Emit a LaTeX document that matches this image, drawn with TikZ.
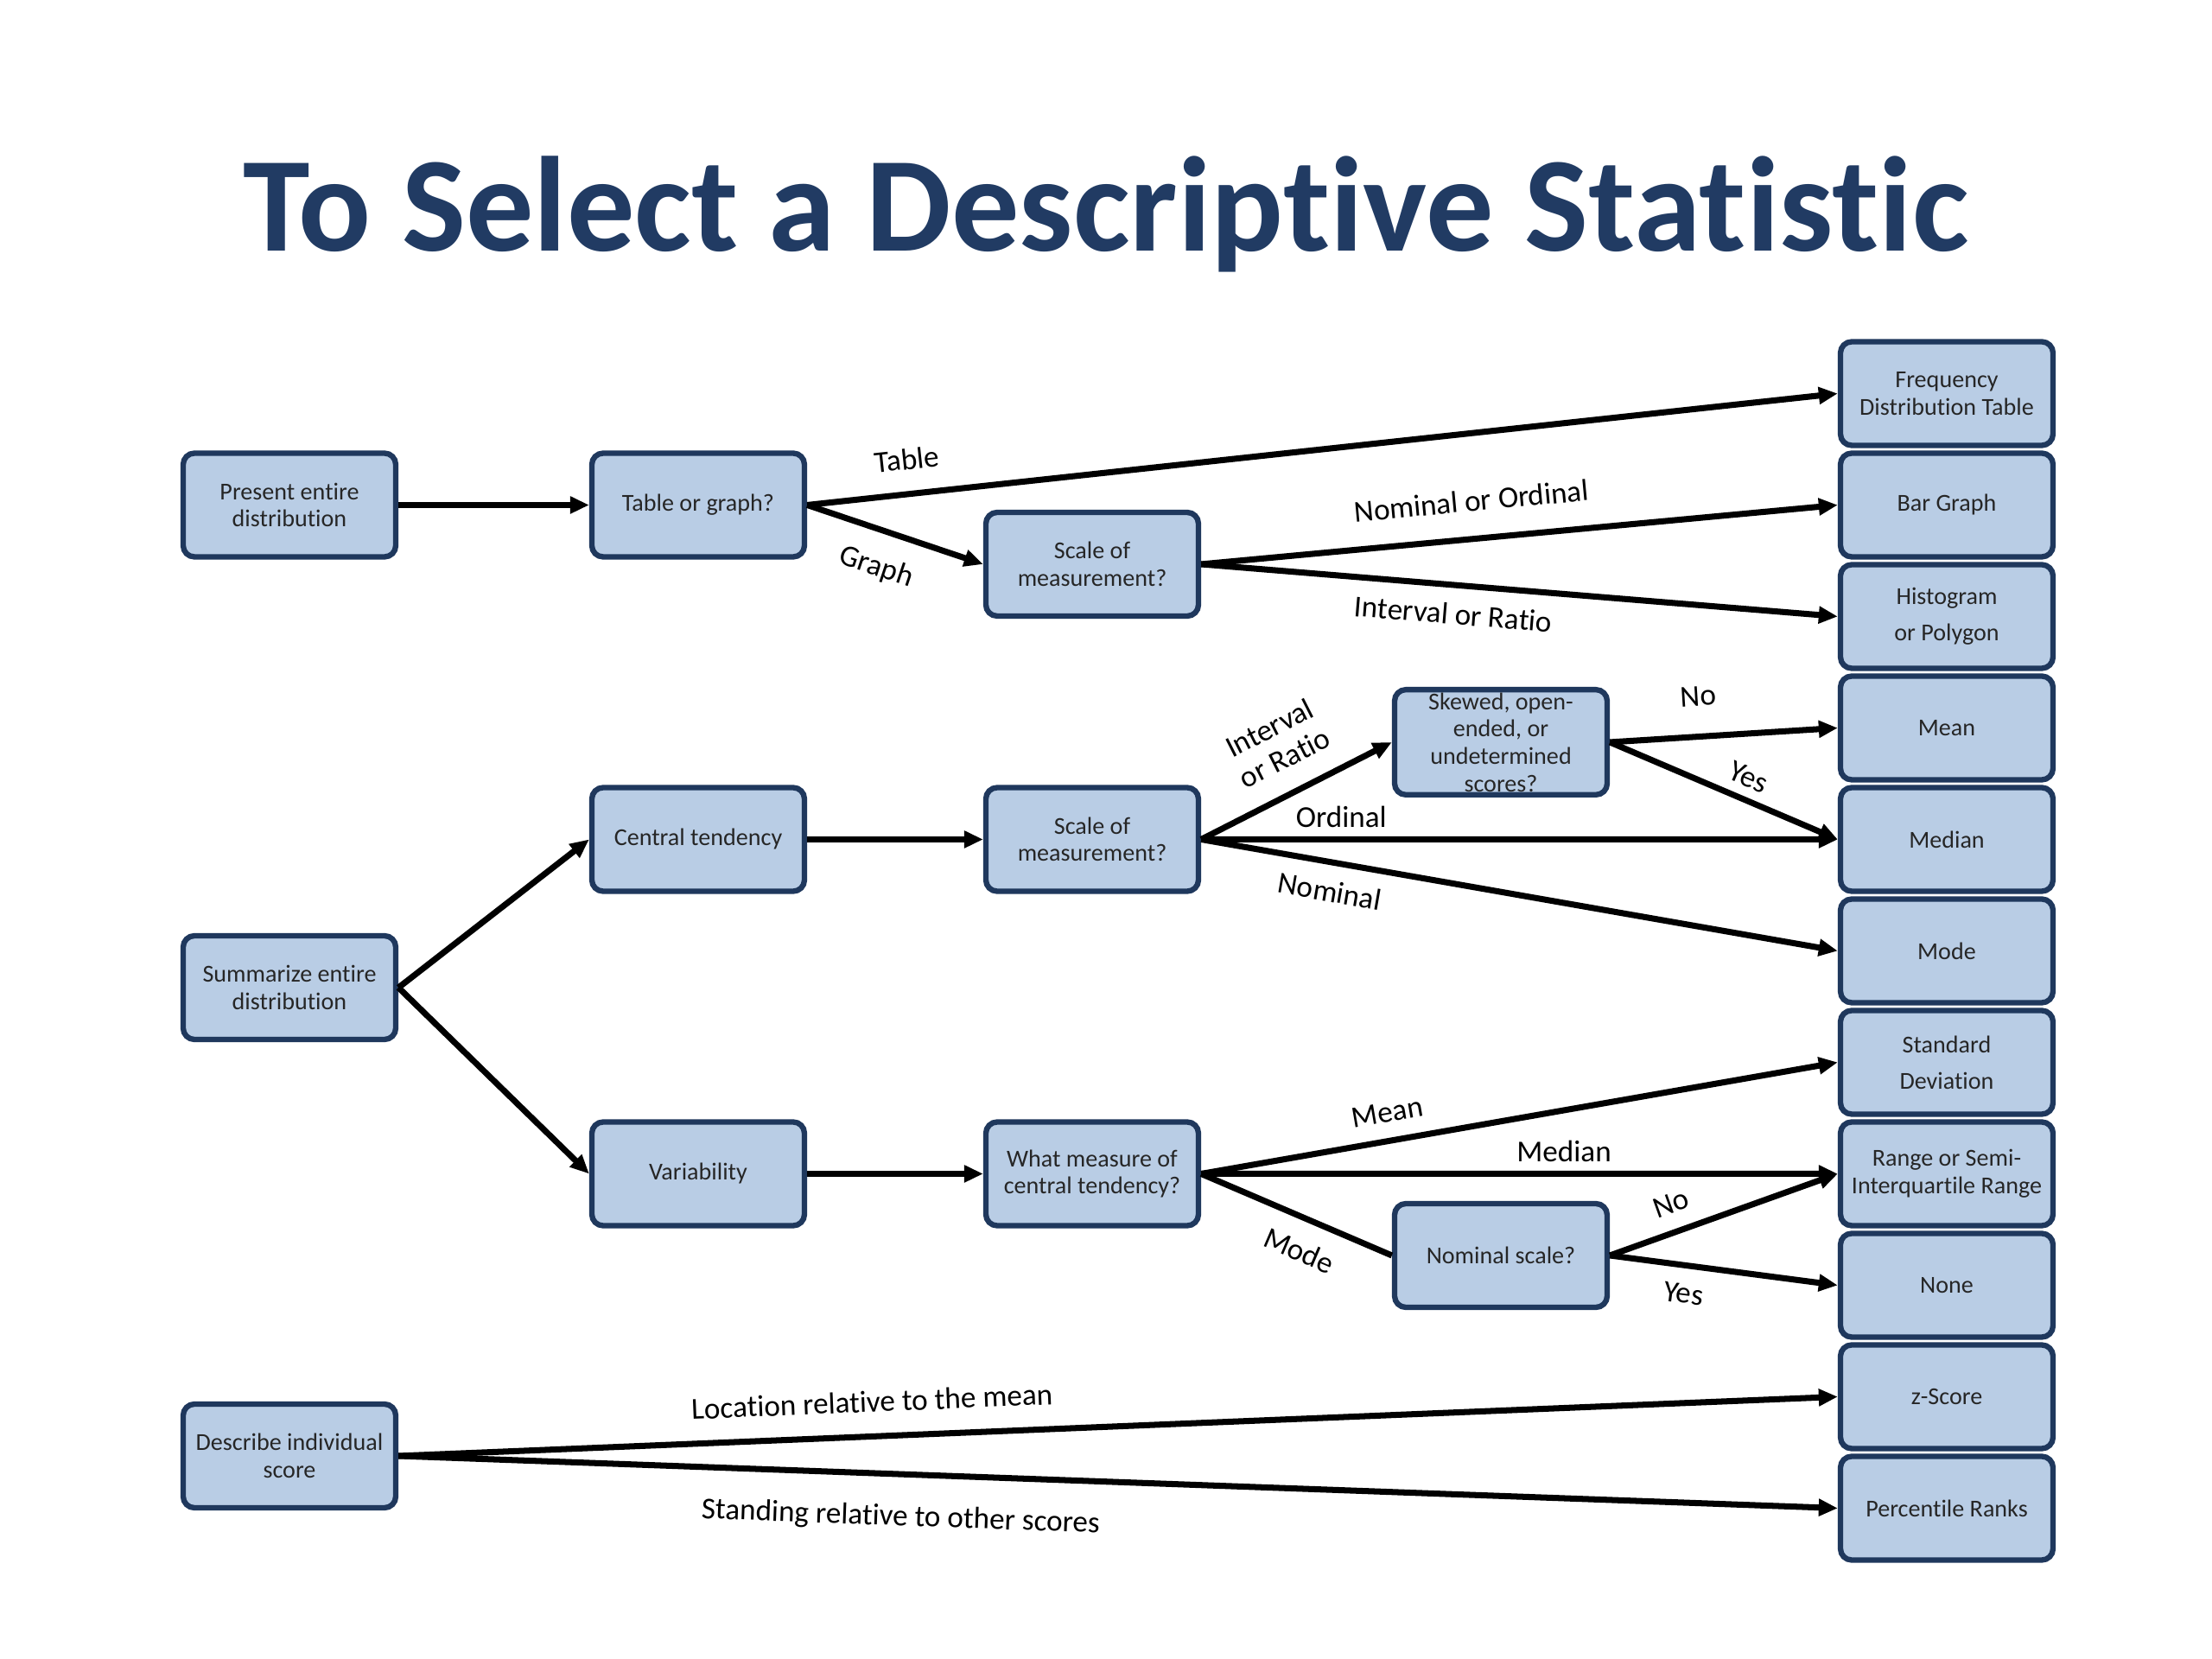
\documentclass[tikz,border=0pt]{standalone}
\usepackage{fontspec}
\setmainfont{Carlito}[Ligatures=NoCommon]
\usetikzlibrary{arrows.meta,positioning}
\definecolor{boxfill}{RGB}{185,205,229}
\definecolor{boxline}{RGB}{31,56,93}
\definecolor{titleblue}{RGB}{33,59,99}
\tikzset{
    box/.style={draw=boxline, fill=boxfill, line width=1.8pt,
        rounded corners=0.13cm, minimum width=2.46cm, minimum height=1.2cm,
        align=center, inner sep=1pt, text=black!85,
        font=\fontsize{8}{9}\selectfont},
    flow/.style={line width=2pt, -{Triangle[length=0.22cm,width=0.19cm]}},
    lbl/.style={font=\fontsize{10}{11}\selectfont, sloped, inner sep=3pt}
}
\begin{document}
\begin{tikzpicture}
    \useasboundingbox[fill=white] (0,0) rectangle (25.6,19.2);
    \node[anchor=base, text=titleblue, font=\fontsize{44.5}{50}\selectfont\bfseries]
        (title) at (12.8,16.29) {To Select a Descriptive Statistic};
    % results column
    \foreach[count=\i] \rtext in {{Frequency\\Distribution Table}, Bar Graph,
        {Histogram\\[3pt]or Polygon}, Mean, Median, Mode, {Standard\\[3pt]Deviation},
        {Range or Semi-\\Interquartile Range}, None, z-Score, Percentile Ranks} {
        \node[box] (r-\i) at (22.53,{15.935-1.29*\i}) {\rtext};
    }
    % questions
    \node[box] (present) at (3.35,13.355) {Present entire\\distribution};
    \node[box] (summ) at (3.35,7.77) {Summarize entire\\distribution};
    \node[box] (indiv) at (3.35,2.35) {Describe individual\\score};
    \node[box] (tgraph) at (8.08,13.355) {Table or graph?};
    \node[box] (central) at (8.08,9.485) {Central tendency};
    \node[box] (var) at (8.08,5.615) {Variability};
    \node[box] (scale-a) at (12.64,12.67) {Scale of\\measurement?};
    \node[box] (scale-b) at (12.64,9.485) {Scale of\\measurement?};
    \node[box] (what) at (12.64,5.615) {What measure of\\central tendency?};
    \node[box] (skew) at (17.37,10.61) {Skewed, open-\\ended, or\\undetermined\\scores?};
    \node[box] (nomq) at (17.37,4.67) {Nominal scale?};

    \draw[flow] (present) -- (tgraph);
    \draw[flow] (tgraph.east) -- node[lbl,above=4pt,pos=0.1] {Table} (r-1.west);
    \draw[flow] (tgraph.east) -- node[lbl,below=4pt,pos=0.46] {Graph} (scale-a.west);
    \draw[flow] (scale-a.east) -- node[lbl,above=5pt,pos=0.43] {Nominal or Ordinal} (r-2.west);
    \draw[flow] (scale-a.east) -- node[lbl,below=2pt,pos=0.4] {Interval or Ratio} (r-3.west);

    \draw[flow] (summ.east) -- (central.west);
    \draw[flow] (summ.east) -- (var.west);
    \draw[flow] (central) -- (scale-b);
    \draw[flow] (scale-b.east) -- node[lbl,above=4pt,pos=0.52,align=center] {Interval\\or Ratio} (skew.west);
    \draw[flow] (scale-b.east) -- node[lbl,above,pos=0.22] {Ordinal} (r-5.west);
    \draw[flow] (scale-b.east) -- node[lbl,below=2pt,pos=0.21] {Nominal} (r-6.west);
    \draw[flow] (skew.east) -- node[lbl,above=6pt,pos=0.4] {No} (r-4.west);
    \draw[flow] (skew.east) -- node[lbl,above,pos=0.57] {Yes} (r-5.west);

    \draw[flow] (var) -- (what);
    \draw[flow] (what.east) -- node[lbl,above=2pt,pos=0.3] {Mean} (r-7.west);
    \draw[flow] (what.east) -- node[lbl,above,pos=0.57] {Median} (r-8.west);
    \draw[line width=2pt] (what.east) -- node[lbl,below=3pt,pos=0.58] {Mode} (nomq.west);
    \draw[flow] (nomq.east) -- node[lbl,above=2pt,pos=0.31] {No} (r-8.west);
    \draw[flow] (nomq.east) -- node[lbl,below=2pt,pos=0.34] {Yes} (r-9.west);

    \draw[flow] (indiv.east) -- node[lbl,above=4pt,pos=0.33] {Location relative to the mean} (r-10.west);
    \draw[flow] (indiv.east) -- node[lbl,below=6pt,pos=0.35] {Standing relative to other scores} (r-11.west);
\end{tikzpicture}
\end{document}
